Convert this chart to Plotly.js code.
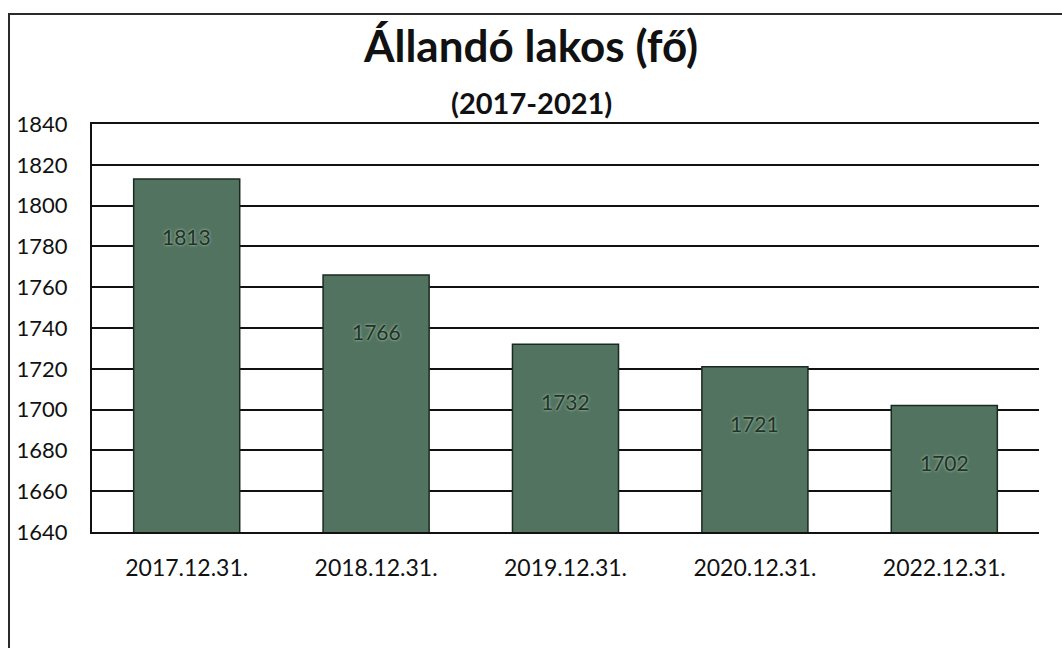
<!DOCTYPE html>
<html>
<head>
<meta charset="utf-8">
<script src="https://cdn.plot.ly/plotly-3.0.1.min.js"></script>
<style>
  html, body { margin: 0; padding: 0; background: #ffffff; }
  #wrap { position: relative; width: 1062px; height: 648px; overflow: hidden; background: #fff; }
  #frame { position: absolute; left: 8px; top: 13px; width: 1100px; height: 700px; border: 2px solid #2a2a2a; box-sizing: border-box; }
  #chart { position: absolute; left: 0; top: 0; width: 1062px; height: 648px; }
</style>
</head>
<body>
<div id="wrap">
  <div id="frame"></div>
  <div id="chart"></div>
</div>
<script>
const categories = ["2017.12.31.", "2018.12.31.", "2019.12.31.", "2020.12.31.", "2022.12.31."];
const residents = [1813, 1766, 1732, 1721, 1702];
const yTicks = [1640, 1660, 1680, 1700, 1720, 1740, 1760, 1780, 1800, 1820, 1840];
const titleText = "Állandó lakos (fő)";
const subtitleText = "(2017-2021)";

const FONT = "Lato, 'Open Sans', 'DejaVu Sans', sans-serif";

const trace = {
  type: "bar",
  x: categories,
  y: residents,
  marker: { color: "#527360", line: { color: "#1b2a20", width: 1.5 } },
  hoverinfo: "x+y"
};

const annotations = categories.map((c, i) => ({
  x: c, y: residents[i], xref: "x", yref: "y",
  text: String(residents[i]),
  showarrow: false, yanchor: "middle", yshift: -57,
  font: { family: FONT, size: 21, color: "#1f3326", shadow: "0px 0px 3px #b8d0bd" }
}));

annotations.push({
  xref: "paper", yref: "paper", x: 0.5, y: 1.052,
  text: "<b>" + subtitleText + "</b>", showarrow: false,
  xanchor: "center", yanchor: "middle", xshift: -34,
  font: { family: FONT, size: 29, color: "#111" }
});

const layout = {
  width: 1062, height: 648,
  margin: { l: 92, r: 23, t: 124, b: 116 },
  paper_bgcolor: "rgba(0,0,0,0)",
  plot_bgcolor: "rgba(0,0,0,0)",
  title: {
    text: "<b>" + titleText + "</b>",
    x: 0.5, xref: "container", xanchor: "center",
    y: 1, yref: "container", yanchor: "top", pad: { t: 31 },
    font: { family: FONT, size: 44, color: "#111" }
  },
  bargap: 0.44,
  showlegend: false,
  xaxis: {
    type: "category",
    showgrid: false,
    showline: true, linecolor: "#111", linewidth: 2, mirror: true,
    ticks: "", ticklabelstandoff: 14,
    tickfont: { family: FONT, size: 23, color: "#111" }
  },
  yaxis: {
    range: [1640, 1840],
    tickvals: yTicks,
    showgrid: true, gridcolor: "#111", gridwidth: 2,
    showline: true, linecolor: "#111", linewidth: 2,
    zeroline: false,
    ticks: "", ticklabelstandoff: 18,
    tickfont: { family: FONT, size: 22, color: "#111" }
  },
  annotations: annotations
};

Plotly.newPlot("chart", [trace], layout, { displayModeBar: false, staticPlot: true });
</script>
</body>
</html>
